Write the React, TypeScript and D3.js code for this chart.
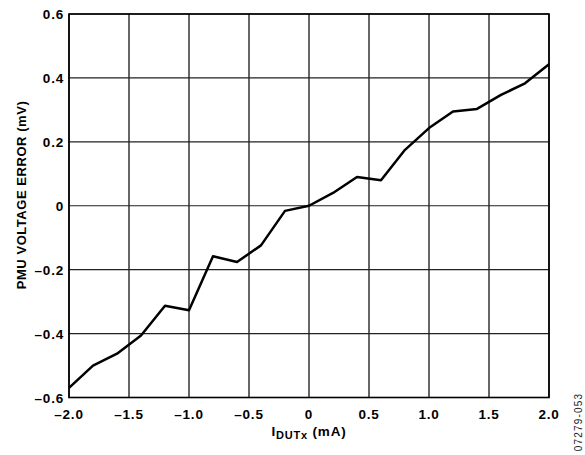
import React from "react";
import * as d3 from "d3";

const currentMA = [-2.0, -1.8, -1.6, -1.4, -1.2, -1.0, -0.8, -0.6, -0.4, -0.2, 0, 0.2, 0.4, 0.6, 0.8, 1.0, 1.2, 1.4, 1.6, 1.8, 2.0];
const errorMV = [-0.57, -0.5, -0.463, -0.406, -0.313, -0.327, -0.158, -0.176, -0.124, -0.016, 0, 0.04, 0.09, 0.08, 0.175, 0.243, 0.295, 0.303, 0.347, 0.383, 0.443];
const xTicks = [-2.0, -1.5, -1.0, -0.5, 0, 0.5, 1.0, 1.5, 2.0];
const yTicks = [-0.6, -0.4, -0.2, 0, 0.2, 0.4, 0.6];

const W = 585, H = 455;
const L = 69, R = 549, T = 14, B = 397.5;

const fmt = (v: number, digits: number) => {
  if (v === 0) return "0";
  const s = Math.abs(v).toFixed(digits);
  return (v < 0 ? "\u2013" : "") + s;
};

export default function App() {
  const x = d3.scaleLinear().domain([-2, 2]).range([L, R]);
  const y = d3.scaleLinear().domain([-0.6, 0.6]).range([B, T]);
  const line = d3.line<number>().x((_, i) => x(currentMA[i])).y((d) => y(d));
  const font = "'Liberation Sans', Arial, sans-serif";
  return (
    <svg width={W} height={H} style={{ position: "absolute", left: 0, top: 0, background: "#fff" }} fontFamily={font}>
      {xTicks.map((t) => (
        <line key={"gx" + t} x1={x(t)} x2={x(t)} y1={T} y2={B} stroke="#000" strokeWidth={1.2} />
      ))}
      {yTicks.map((t) => (
        <line key={"gy" + t} x1={L} x2={R} y1={y(t)} y2={y(t)} stroke="#222" strokeWidth={1.2} />
      ))}
      <rect x={L} y={T} width={R - L} height={B - T} fill="none" stroke="#000" strokeWidth={1.6} />
      <path d={line(errorMV) || ""} fill="none" stroke="#000" strokeWidth={2.5} strokeLinejoin="round" />
      {xTicks.map((t) => (
        <text key={"tx" + t} x={x(t)} y={419} textAnchor="middle" fontSize={13.5} fontWeight="bold" letterSpacing={0.8}>
          {fmt(t, 1)}
        </text>
      ))}
      {yTicks.map((t) => (
        <text key={"ty" + t} x={L - 5} y={y(t) + 5} textAnchor="end" fontSize={13.5} fontWeight="bold" letterSpacing={0.8}>
          {fmt(t, 1)}
        </text>
      ))}
      <text transform={`translate(26,195) rotate(-90)`} textAnchor="middle" fontSize={13} fontWeight="bold" letterSpacing={0.55}>
        PMU VOLTAGE ERROR (mV)
      </text>
      <text x={309} y={436} textAnchor="middle" fontSize={13.5} fontWeight="bold" letterSpacing={0.8}>
        I<tspan fontSize={11} dy={3}>DUTx</tspan>
        <tspan dy={-3}> (mA)</tspan>
      </text>
      <text transform={`translate(581.5,422) rotate(-90)`} textAnchor="middle" fontSize={10} letterSpacing={1.2} fill="#222">
        07279-053
      </text>
    </svg>
  );
}
